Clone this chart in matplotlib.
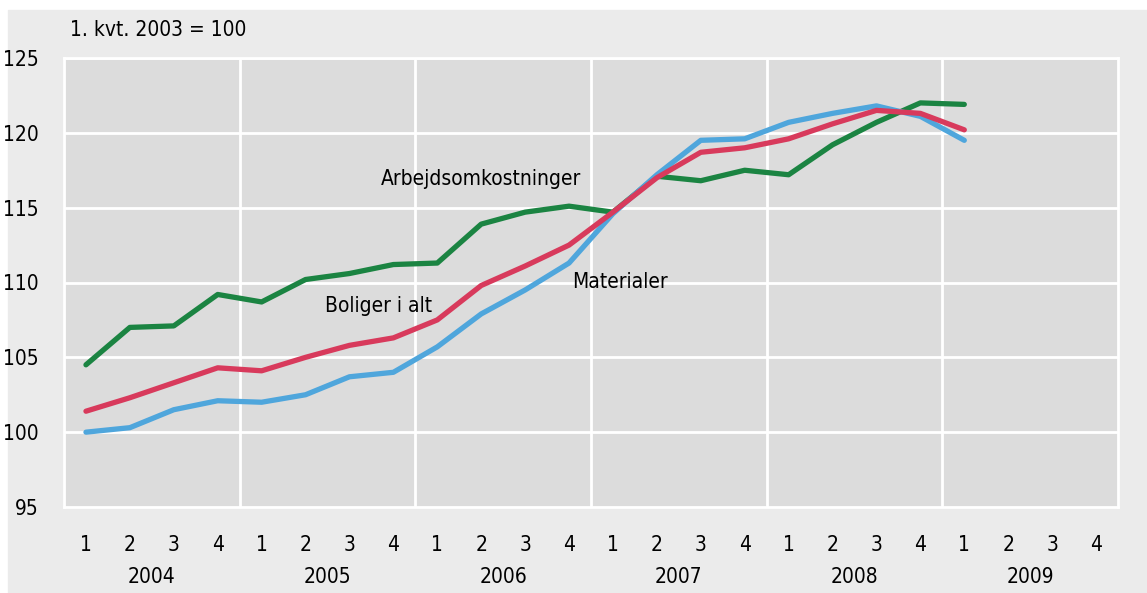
import matplotlib
matplotlib.use("Agg")
import matplotlib.pyplot as plt
from matplotlib.patches import Rectangle

plt.rcParams['font.family'] = ['DejaVu Sans']
plt.rcParams['font.stretch'] = 'condensed'

# kvartaler 2004-2009
kvartaler = ['1', '2', '3', '4'] * 6
aar = ['2004', '2005', '2006', '2007', '2008', '2009']

# indeks, 1. kvt. 2003 = 100 (2004K1 - 2009K1)
arbejdsomk = [104.5, 107.0, 107.1, 109.2, 108.7, 110.2, 110.6, 111.2, 111.3,
              113.9, 114.7, 115.1, 114.7, 117.1, 116.8, 117.5, 117.2, 119.2,
              120.7, 122.0, 121.9]
materialer = [100.0, 100.3, 101.5, 102.1, 102.0, 102.5, 103.7, 104.0, 105.7,
              107.9, 109.5, 111.3, 114.6, 117.2, 119.5, 119.6, 120.7, 121.3,
              121.8, 121.1, 119.5]
boliger = [101.4, 102.3, 103.3, 104.3, 104.1, 105.0, 105.8, 106.3, 107.5,
           109.8, 111.1, 112.5, 114.7, 117.0, 118.7, 119.0, 119.6, 120.6,
           121.5, 121.3, 120.2]

fig = plt.figure(figsize=(11.47, 5.93), dpi=100, facecolor='white')
# lys grå baggrund bag hele figuren
fig.patches.append(Rectangle((8 / 1147, 0), 1, (593 - 10) / 593,
                             transform=fig.transFigure, color='#ebebeb', zorder=-10))

ax = fig.add_axes([64 / 1147, 86 / 593, 1054 / 1147, 449 / 593])
ax.set_facecolor('#dcdcdc')

x = list(range(1, len(arbejdsomk) + 1))
ax.plot(x, arbejdsomk, color='#1b8442', lw=3.8, solid_capstyle='round', zorder=3)
ax.plot(x, materialer, color='#4fa6dc', lw=3.8, solid_capstyle='round', zorder=3)
ax.plot(x, boliger, color='#d83a5c', lw=3.8, solid_capstyle='round', zorder=4)

ax.set_xlim(0.5, 24.5)
ax.set_ylim(95, 125)

# gitter
for v in range(100, 126, 5):
    ax.axhline(v, color='white', lw=2, zorder=1)
for g in [4.5, 8.5, 12.5, 16.5, 20.5]:
    ax.axvline(g, color='white', lw=2, zorder=1)
for s in ax.spines.values():
    s.set_color('white')
    s.set_linewidth(2)

ax.set_yticks(range(95, 126, 5))
ax.tick_params(axis='y', length=0, pad=18, labelsize=15)
ax.set_xticks(range(1, 25))
ax.set_xticklabels(kvartaler)
ax.tick_params(axis='x', length=0, pad=20, labelsize=15)

for i, a in enumerate(aar):
    ax.text(2.5 + 4 * i, -0.155, a, transform=ax.get_xaxis_transform(),
            ha='center', va='center', fontsize=15)

ax.text(10.0, 116.9, 'Arbejdsomkostninger', ha='center', va='center', fontsize=15)
ax.text(6.45, 108.4, 'Boliger i alt', ha='left', va='center', fontsize=15)
ax.text(12.07, 110.0, 'Materialer', ha='left', va='center', fontsize=15)

fig.text(70 / 1147, 1 - 30 / 593, '1. kvt. 2003 = 100', ha='left', va='center', fontsize=15)

fig.savefig('out.png', dpi=100, facecolor=fig.get_facecolor())
